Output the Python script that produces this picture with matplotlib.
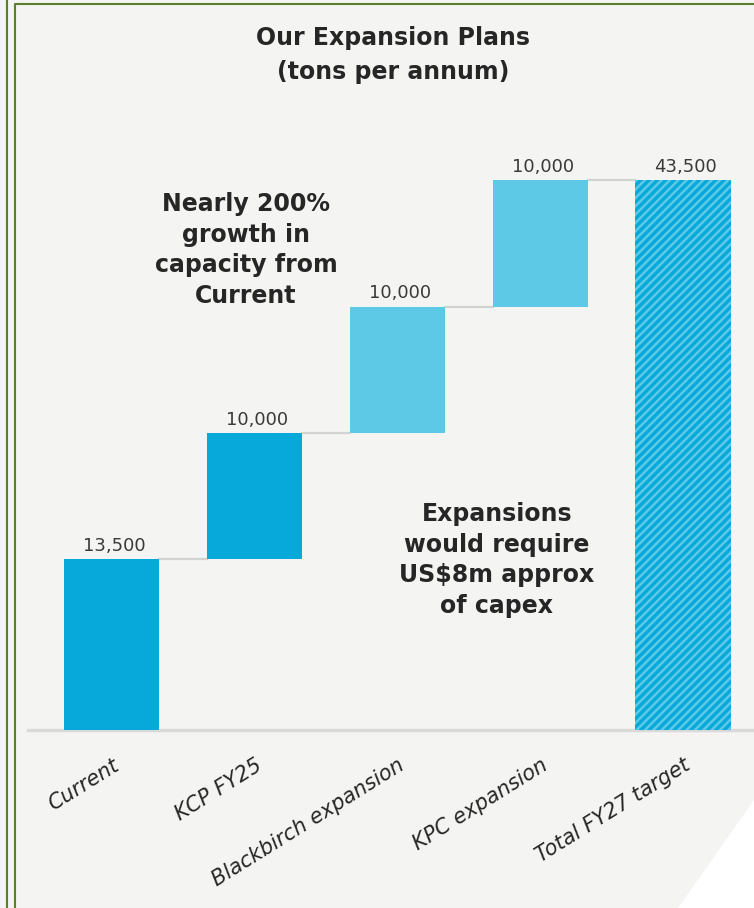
"""Waterfall of planned capacity expansions (tons per annum)."""

import matplotlib
matplotlib.use("Agg")
import matplotlib.pyplot as plt
from matplotlib.patches import Polygon
from matplotlib.lines import Line2D

categories = ["Current", "KCP FY25", "Blackbirch expansion", "KPC expansion", "Total FY27 target"]
steps = [13500, 10000, 10000, 10000]
total = 43500
value_labels = ["13,500", "10,000", "10,000", "10,000", "43,500"]

DARK = "#06a9da"
LIGHT = "#5ec9e6"
GREEN = "#5b7f2e"
TEXT = "#262626"

plt.rcParams["font.family"] = ["DejaVu Sans"]
plt.rcParams["hatch.linewidth"] = 1.8

W, H = 754, 908
fig = plt.figure(figsize=(W / 100, H / 100), dpi=100, facecolor="#f4f4f3")

# page frame and corner
fig.add_artist(Line2D([7 / W, 7 / W], [0, 1], color=GREEN, lw=1.5))
fig.add_artist(Line2D([15 / W, 15 / W, 1], [0, 1 - 4 / H, 1 - 4 / H], color=GREEN, lw=1.5))
fig.add_artist(Polygon([[1, 1 - 800 / H], [678 / W, 0], [1, 0]], closed=True,
                       transform=fig.transFigure, facecolor="white", edgecolor="none"))

ax = fig.add_axes([28 / W, (H - 730) / H, 726 / W, 632 / H])
ax.set_facecolor("none")
for s in ax.spines.values():
    s.set_visible(False)

xs = list(range(len(categories)))
width = 0.666
bottoms = [0]
for v in steps[:-1]:
    bottoms.append(bottoms[-1] + v)
colors = [DARK, DARK, LIGHT, LIGHT]

for x, b, v, c in zip(xs[:-1], bottoms, steps, colors):
    ax.bar(x, v, bottom=b, width=width, color=c, zorder=3)
ax.bar(xs[-1], total, width=width, color=DARK, edgecolor=LIGHT, linewidth=0,
       hatch="////", zorder=3)

# connectors between bar tops
tops = [b + v for b, v in zip(bottoms, steps)]
for i, t in enumerate(tops):
    ax.plot([xs[i] + width / 2, xs[i + 1] - width / 2], [t, t],
            color="#d2d2d2", lw=1.6, zorder=2)

label_heights = tops + [total]
for x, h, lab in zip(xs, label_heights, value_labels):
    ax.annotate(lab, (x, h), xytext=(2, 3), textcoords="offset points",
                ha="center", va="bottom", fontsize=13, color="#3a3a3a")

ax.axhline(0, color="#d9d9d9", lw=2.5, zorder=1, clip_on=False)
ax.set_xlim(-0.588, 4.497)
ax.set_ylim(0, 50000)
ax.set_yticks([])
ax.set_xticks(xs)
ax.set_xticklabels(categories, rotation=32, ha="right", rotation_mode="anchor",
                   fontstyle="italic", fontsize=15, color=TEXT)
ax.tick_params(axis="x", length=0, pad=18)

fig.text(393 / W, 1 - 55 / H, "Our Expansion Plans\n(tons per annum)", ha="center",
         va="center", fontsize=17, fontweight="bold", color=TEXT, linespacing=1.5)
fig.text(246 / W, 1 - 250 / H, "Nearly 200%\ngrowth in\ncapacity from\nCurrent", ha="center",
         va="center", fontsize=17, fontweight="bold", color=TEXT, linespacing=1.35)
fig.text(497 / W, 1 - 560 / H, "Expansions\nwould require\nUS$8m approx\nof capex", ha="center",
         va="center", fontsize=17, fontweight="bold", color=TEXT, linespacing=1.35)

fig.savefig("out.png", dpi=100, facecolor=fig.get_facecolor())
